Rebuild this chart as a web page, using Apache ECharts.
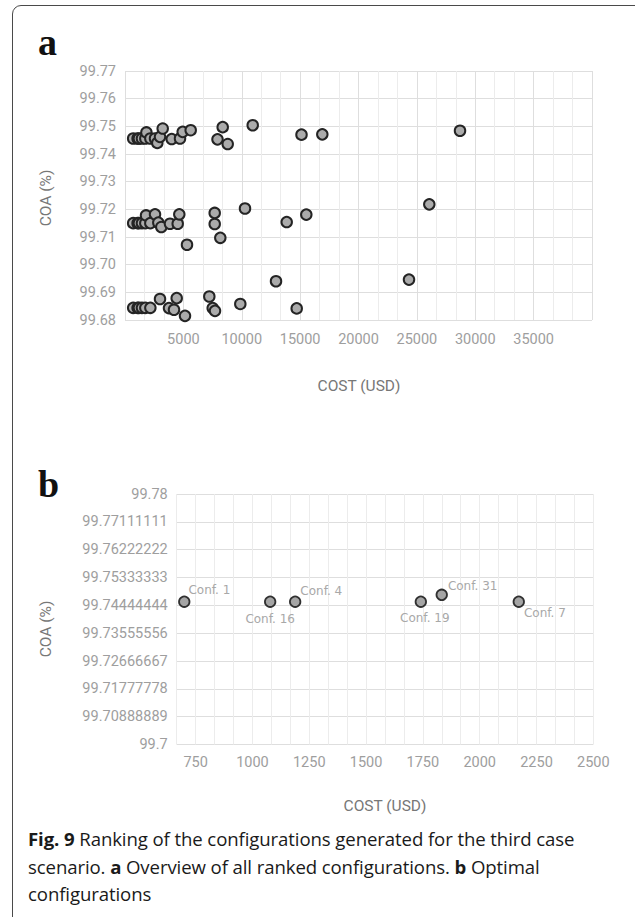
<!DOCTYPE html>
<html>
<head>
<meta charset="utf-8">
<script src="https://cdn.jsdelivr.net/npm/echarts@6/dist/echarts.min.js"></script>
<style>
  html, body { margin: 0; padding: 0; background: #fff; overflow: hidden; }
  #frame { position: absolute; left: 12px; top: 5px; width: 660px; height: 960px;
           border: 1.5px solid #4a4a4a; border-radius: 9px; box-sizing: border-box; }
  #chart { position: absolute; left: 0; top: 0; width: 635px; height: 917px; }
  .panel { position: absolute; font-family: "Liberation Serif", serif; font-weight: bold;
           font-size: 38px; line-height: 1; color: #111; }
  #caption { position: absolute; left: 28px; top: 825px; width: 600px; font-family: "Open Sans", sans-serif;
             font-size: 18.6px; line-height: 27.5px; color: #1a1a1a; white-space: nowrap; letter-spacing: -0.1px; }
</style>
</head>
<body>
<div id="frame"></div>
<div id="chart"></div>
<div class="panel" style="left:38px; top:23px;">a</div>
<div class="panel" style="left:38px; top:465px;">b</div>
<div id="caption"><b>Fig. 9</b> Ranking of the configurations generated for the third case<br>scenario. <b>a</b> Overview of all ranked configurations. <b>b</b> Optimal<br>configurations</div>
<script>
// a: all ranked configurations (cost in USD, COA in %)
var allCost = [
  700, 1078, 1188, 1450, 1741, 1833, 2172, 2570, 2767, 2998, 3229, 4000, 4711, 4942, 5627,
  7923, 8368, 8797, 10938, 15118, 16900, 28694,
  700, 1078, 1188, 1450, 1741, 1800, 2170, 2570, 2852, 3109, 3854, 4514, 4651, 5310,
  7683, 7683, 8163, 10278, 13850, 15529, 26064,
  700, 1078, 1188, 1450, 1741, 2172, 2998, 3769, 4197, 4428, 5139, 7221, 7512, 7709,
  9876, 12934, 14707, 24325
];
var allCoa = [
  99.7456, 99.7456, 99.7456, 99.7456, 99.7456, 99.7478, 99.7456, 99.7456, 99.7440, 99.7462, 99.7492, 99.7454, 99.7456, 99.7480, 99.7486,
  99.7453, 99.7497, 99.7436, 99.7504, 99.7470, 99.7471, 99.7484,
  99.7150, 99.7150, 99.7150, 99.7150, 99.7150, 99.7178, 99.7150, 99.7182, 99.7152, 99.7136, 99.7148, 99.7148, 99.7182, 99.7072,
  99.7187, 99.7147, 99.7097, 99.7203, 99.7154, 99.7181, 99.7218,
  99.6844, 99.6844, 99.6844, 99.6844, 99.6844, 99.6844, 99.6876, 99.6843, 99.6837, 99.6879, 99.6815, 99.6885, 99.6843, 99.6833,
  99.6858, 99.6940, 99.6842, 99.6946
];

// b: optimal configurations
var optNames = ['Conf. 1', 'Conf. 16', 'Conf. 4', 'Conf. 19', 'Conf. 31', 'Conf. 7'];
var optCost = [700, 1078, 1188, 1741, 1833, 2172];
var optCoa = [99.7456, 99.7456, 99.7456, 99.7456, 99.7478, 99.7456];

// where each optimal label sits relative to its point
var optLabelPos = [
  { position: 'right', distance: 0, offset: [-2, -12] },
  { position: 'bottom', distance: 5, offset: [0, 0] },
  { position: 'right', distance: 1, offset: [-2, -11] },
  { position: 'bottom', distance: 4, offset: [4, 0] },
  { position: 'right', distance: 2, offset: [-2, -9] },
  { position: 'right', distance: 0, offset: [-1, 11] }
];

var labelColor = '#9e9e9e';
var titleColor = '#777777';
var gridMajor = '#dedede';
var gridMinor = '#ececec';

var myChart = echarts.init(document.getElementById('chart'), null, { renderer: 'svg' });

function isMultiple(v, step) {
  var r = v / step;
  return Math.abs(r - Math.round(r)) < 1e-6;
}

var axisText = { color: labelColor, fontSize: 14.5, fontFamily: 'Roboto' };

var option = {
  animation: false,
  grid: [
    { left: 125, top: 71, width: 467, height: 249 },
    { left: 176.7, top: 494, width: 416.6, height: 250.5 }
  ],
  xAxis: [
    {
      type: 'value', gridIndex: 0, min: 0, max: 40000, interval: 5000 / 3,
      axisLine: { show: false }, axisTick: { show: false },
      axisLabel: Object.assign({
        margin: 12, showMinLabel: true, showMaxLabel: true,
        formatter: function (v) {
          return (isMultiple(v, 5000) && v > 1 && v < 39999) ? String(Math.round(v)) : '';
        }
      }, axisText),
      splitLine: { show: true, lineStyle: { color: [gridMajor, gridMinor, gridMinor], width: 1 } }
    },
    {
      type: 'value', gridIndex: 1, min: 2000 / 3, max: 2500, interval: 250 / 3,
      axisLine: { show: false }, axisTick: { show: false },
      axisLabel: Object.assign({
        margin: 10, showMinLabel: true, showMaxLabel: true,
        formatter: function (v) {
          return isMultiple(v, 250) ? String(Math.round(v)) : '';
        }
      }, axisText),
      splitLine: { show: true, lineStyle: { color: gridMinor, width: 1 } }
    }
  ],
  yAxis: [
    {
      type: 'value', gridIndex: 0, min: 99.68, max: 99.77, interval: 0.01,
      axisLine: { show: false }, axisTick: { show: false },
      axisLabel: Object.assign({
        margin: 9, formatter: function (v) { return v.toFixed(2); }
      }, axisText),
      splitLine: { show: true, lineStyle: { color: gridMajor, width: 1 } }
    },
    {
      type: 'value', gridIndex: 1, min: 99.7, max: 99.78, interval: 0.08 / 9,
      axisLine: { show: false }, axisTick: { show: false },
      axisLabel: Object.assign({
        margin: 9, formatter: function (v) { return String(parseFloat(v.toFixed(8))); }
      }, axisText),
      splitLine: { show: true, lineStyle: { color: gridMajor, width: 1 } }
    }
  ],
  graphic: [
    { type: 'text', x: 46, y: 198, rotation: Math.PI / 2,
      style: { text: 'COA (%)', fill: titleColor, fontSize: 15.5, fontFamily: 'Roboto', align: 'center', verticalAlign: 'middle' } },
    { type: 'text', x: 359, y: 386,
      style: { text: 'COST (USD)', fill: titleColor, fontSize: 15.5, fontFamily: 'Roboto', align: 'center', verticalAlign: 'middle' } },
    { type: 'text', x: 46, y: 629, rotation: Math.PI / 2,
      style: { text: 'COA (%)', fill: titleColor, fontSize: 15.5, fontFamily: 'Roboto', align: 'center', verticalAlign: 'middle' } },
    { type: 'text', x: 385, y: 806,
      style: { text: 'COST (USD)', fill: titleColor, fontSize: 15.5, fontFamily: 'Roboto', align: 'center', verticalAlign: 'middle' } }
  ],
  series: [
    {
      type: 'scatter', xAxisIndex: 0, yAxisIndex: 0,
      symbol: 'circle', symbolSize: 10.5,
      itemStyle: { color: '#ababab', borderColor: '#242424', borderWidth: 2, opacity: 1 },
      data: allCost.map(function (c, i) { return [c, allCoa[i]]; })
    },
    {
      type: 'scatter', xAxisIndex: 1, yAxisIndex: 1,
      symbol: 'circle', symbolSize: 10.5,
      itemStyle: { color: '#a5a5a5', borderColor: '#303030', borderWidth: 1.8, opacity: 1 },
      label: { show: true, color: '#a8a8a8', fontSize: 12, fontFamily: 'DejaVu Sans',
               formatter: function (p) { return optNames[p.dataIndex]; } },
      data: optCost.map(function (c, i) {
        return { value: [c, optCoa[i]], label: optLabelPos[i] };
      })
    }
  ]
};

myChart.setOption(option);
</script>
</body>
</html>
